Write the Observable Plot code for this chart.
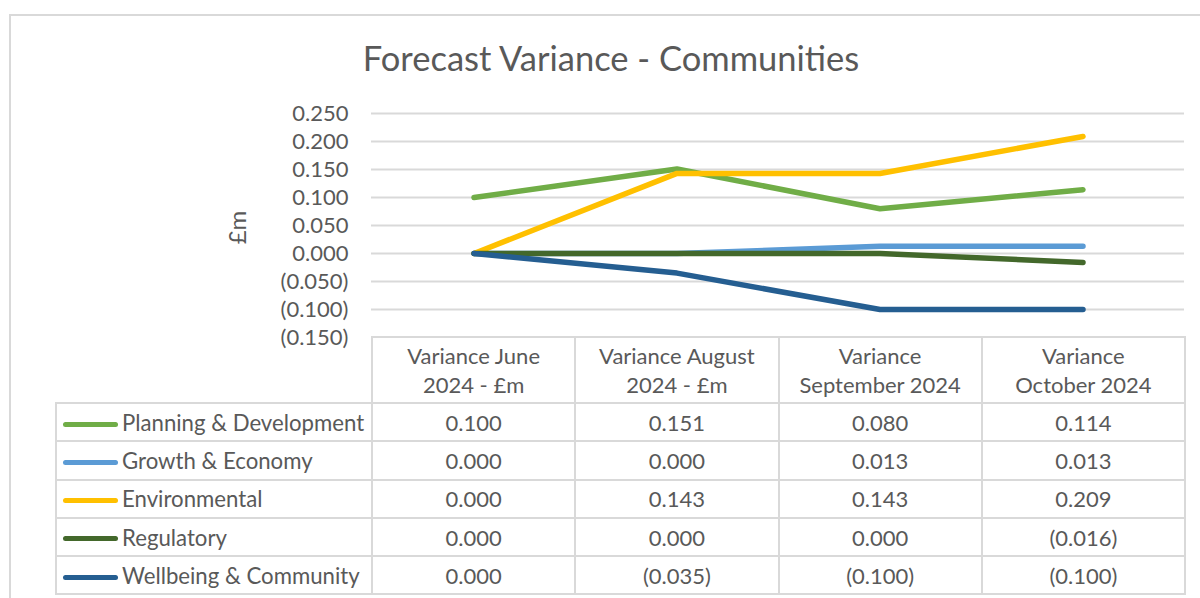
<!DOCTYPE html>
<html>
<head>
<meta charset="utf-8">
<script src="https://cdn.jsdelivr.net/npm/d3@7"></script>
<script src="https://cdn.jsdelivr.net/npm/@observablehq/plot@0.6"></script>
<style>
  html, body { margin: 0; padding: 0; background: #fff; }
  #wrap { position: relative; width: 1200px; height: 598px; overflow: hidden; font-family: Lato, "Open Sans", sans-serif; color: #595959; }
  #frame { position: absolute; left: 9px; top: 14px; width: 1300px; height: 700px; border: 2px solid #d9d9d9; box-sizing: border-box; }
  #title { position: absolute; left: 0; width: 1222px; top: 35px; text-align: center; font-size: 34.5px; line-height: 46px; color: #595959; }
  #plot { position: absolute; left: 0; top: 0; }
  #tbl { position: absolute; left: 55px; top: 336px; border-collapse: collapse; table-layout: fixed; }
  #tbl td { border: 2px solid #d9d9d9; padding: 0; text-align: center; font-size: 22px; color: #595959; white-space: nowrap; box-sizing: border-box; }
  #tbl tr.head td { height: 66px; line-height: 29px; white-space: pre-line; font-size: 22px; }
  #tbl tr.head td.blank { border: none; border-right: 2px solid #d9d9d9; }
  #tbl tr.row td { height: 38.3px; }
  #tbl td.lab { text-align: left; font-size: 22.2px; }
  .sw { display: inline-block; width: 55px; height: 5px; border-radius: 3px; vertical-align: middle; margin: 0 4px 2px 6px; }
</style>
</head>
<body>
<div id="wrap">
  <div id="frame"></div>
  <div id="title"></div>
  <div id="plot"></div>
  <table id="tbl"></table>
</div>
<script>
const title = "Forecast Variance - Communities";
const yLabel = "£m";
const periods = ["Variance June\n2024 - £m", "Variance August\n2024 - £m", "Variance\nSeptember 2024", "Variance\nOctober 2024"];
const services = ["Planning & Development", "Growth & Economy", "Environmental", "Regulatory", "Wellbeing & Community"];
const planningDevelopment = [0.100, 0.151, 0.080, 0.114];
const growthEconomy = [0.000, 0.000, 0.013, 0.013];
const environmental = [0.000, 0.143, 0.143, 0.209];
const regulatory = [0.000, 0.000, 0.000, -0.016];
const wellbeingCommunity = [0.000, -0.035, -0.100, -0.100];
const colors = ["#70ad47", "#5b9bd5", "#ffc000", "#43682b", "#255e91"];
const yTicks = [0.25, 0.2, 0.15, 0.1, 0.05, 0, -0.05, -0.1, -0.15];

const seriesValues = [planningDevelopment, growthEconomy, environmental, regulatory, wellbeingCommunity];
const fmt = v => {
  const s = d3.format(".3f")(Math.abs(v));
  return v < -1e-9 ? `(${s})` : s;
};
const data = services.flatMap((s, i) => periods.map((p, j) => ({service: s, period: p, value: seriesValues[i][j]})));

document.getElementById("title").textContent = title;

const chart = Plot.plot({
  width: 1200,
  height: 598,
  marginLeft: 371,
  marginRight: 16,
  marginTop: 113,
  marginBottom: 261,
  style: {fontFamily: "Lato, 'Open Sans', sans-serif", color: "#595959", background: "transparent"},
  x: {type: "band", domain: periods, padding: 0, axis: null},
  y: {domain: [-0.15, 0.25], axis: null},
  color: {domain: services, range: colors},
  marks: [
    Plot.ruleY(yTicks.slice(0, -1), {stroke: "#d9d9d9", strokeWidth: 2}),
    Plot.axisY({ticks: yTicks, tickFormat: fmt, tickSize: 0, tickPadding: 23, fontSize: 22, fill: "#595959", label: null}),
    Plot.text([yLabel], {frameAnchor: "left", textAnchor: "middle", dx: -133, dy: 2, rotate: -90, fontSize: 24, fill: "#595959"}),
    Plot.line(data, {x: "period", y: "value", z: "service", stroke: "service", strokeWidth: 5.5, strokeLinecap: "round", strokeLinejoin: "round"})
  ]
});
document.getElementById("plot").appendChild(chart);

// data table below the chart
const tbl = d3.select("#tbl");
const cg = tbl.append("colgroup");
cg.append("col").style("width", "316px");
periods.forEach(() => cg.append("col").style("width", "203.25px"));
const head = tbl.append("tr").attr("class", "head");
head.append("td").attr("class", "blank");
periods.forEach(p => head.append("td").text(p));
services.forEach((s, i) => {
  const tr = tbl.append("tr").attr("class", "row");
  const lab = tr.append("td").attr("class", "lab");
  lab.append("span").attr("class", "sw").style("background", colors[i]);
  lab.append("span").text(s);
  seriesValues[i].forEach(v => tr.append("td").text(fmt(v)));
});
</script>
</body>
</html>
